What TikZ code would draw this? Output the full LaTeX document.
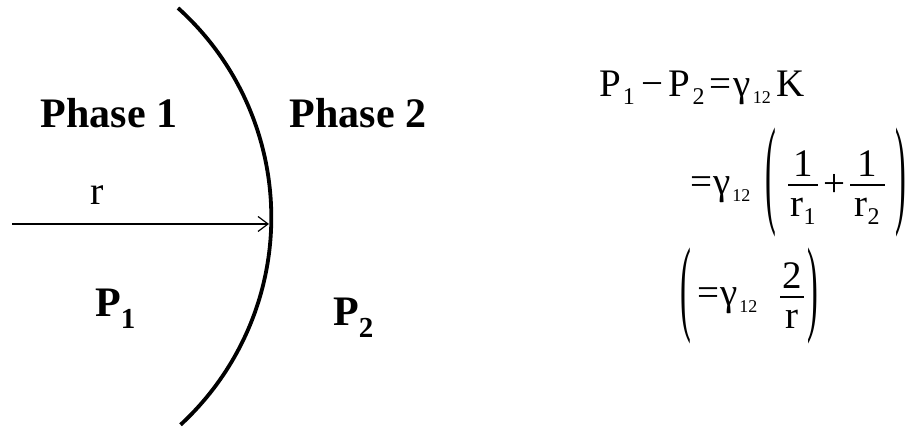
\documentclass[tikz,border=0pt]{standalone}
\usepackage{fontspec}
\setmainfont{Liberation Serif}
\usepackage{graphicx}
\usetikzlibrary{arrows.meta}

\newcommand\Psub[1]{\raisebox{-0.2em}{\fontsize{24}{24}\selectfont #1}}
\newcommand\Gsub[1]{\raisebox{-0.17em}{\fontsize{18}{18}\selectfont #1}}
\newcommand\Bsub[1]{\raisebox{-0.28em}{\fontsize{29}{29}\selectfont\bfseries #1}}

\begin{document}
\begin{tikzpicture}[x=1pt,y=1pt,
  lbl/.style={font=\fontsize{42}{44}\selectfont\bfseries, inner sep=0pt, anchor=base},
  eqt/.style={font=\fontsize{39}{42}\selectfont, inner sep=0pt},
  fbar/.style={line width=1.4pt},
  bigpar/.style={font=\fontsize{36}{40}\selectfont, inner sep=0pt},
  iface/.style={line width=3.8pt},
  radarrow/.style={line width=1.2pt, -{Straight Barb[length=10pt,width=15pt]}}]
\useasboundingbox (0,0) rectangle (916,430);
\fill[white] (0,0) rectangle (916,430);

% interface
\draw[iface] (178,422) arc[start angle=48, end angle=-47.3, radius=282];

% radius arrow
\coordinate (a0) at (12,206);
\coordinate (a1) at (269,206);
\draw[radarrow] (a0) -- (a1);

% labels
\node[lbl] (ph1) at (109,302) {Phase 1};
\node[lbl] (ph2) at (358,302) {Phase 2};
\node[eqt, anchor=base, font=\fontsize{40}{42}\selectfont] (rr) at (97,225) {r};
\node[lbl, anchor=base west] (p1) at (95,113) {P\Bsub{1}};
\node[lbl, anchor=base west] (p2) at (333,104) {P\Bsub{2}};

% line 1
\node[eqt, anchor=base west] (eqA) at (599,333)
  {P\hspace{2pt}\Psub{1}\hspace{7pt}−\hspace{5pt}P\hspace{2pt}\Psub{2}\hspace{5pt}=\hspace{2pt}γ\hspace{2pt}\Gsub{12}\hspace{6pt}K};

% line 2 (fraction bar at y=245)
\node[eqt, anchor=base west] (eqB) at (690,235) {=\hspace{1pt}γ\hspace{2pt}\Gsub{12}};
\node[bigpar] (lpB) at (771,247) {\scalebox{0.9}[3.35]{(}};
\node[eqt, anchor=base] (n1) at (803,253) {1};
\draw[fbar] (788,245) -- (818,245);
\node[eqt, anchor=base] (d1) at (803,213) {r\Psub{1}};
\node[eqt] (plus) at (834,245) {+};
\node[eqt, anchor=base] (n2) at (867,253) {1};
\draw[fbar] (850,245) -- (885,245);
\node[eqt, anchor=base] (d2) at (867,213) {r\Psub{2}};
\node[bigpar] (rpB) at (901,247) {\scalebox{0.9}[3.35]{)}};

% line 3 (fraction bar at y=133)
\node[bigpar] (lpC) at (686,134) {\scalebox{0.9}[2.95]{(}};
\node[eqt, anchor=base west] (eqC) at (697,124) {=\hspace{1pt}γ\hspace{2pt}\Gsub{12}};
\node[eqt, anchor=base] (n3) at (792,141) {2};
\draw[fbar] (780,133) -- (804,133);
\node[eqt, anchor=base] (d3) at (792,101) {r};
\node[bigpar] (rpC) at (813,134) {\scalebox{0.9}[2.95]{)}};
\end{tikzpicture}
\end{document}
